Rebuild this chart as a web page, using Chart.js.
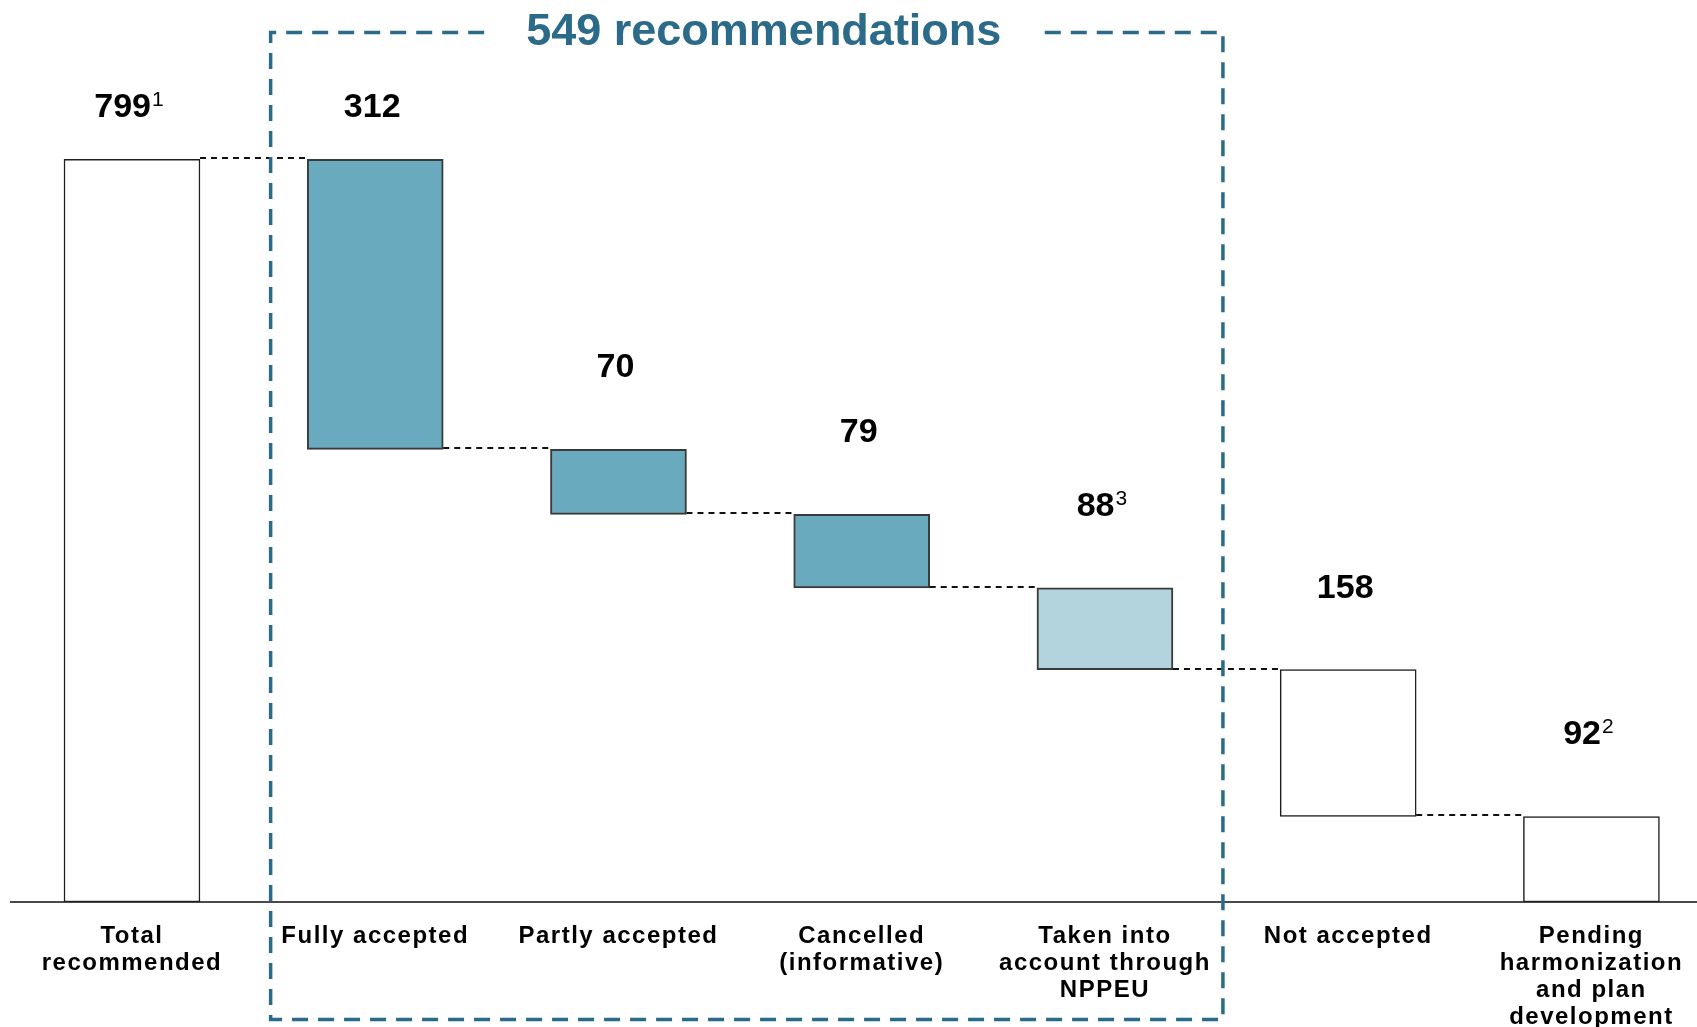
<!DOCTYPE html>
<html>
<head>
<meta charset="utf-8">
<script src="https://cdn.jsdelivr.net/npm/chart.js@4.4.0/dist/chart.umd.min.js"></script>
<style>
  html, body { margin: 0; background: #fff; }
  #wrap { width: 1697px; height: 1027px; position: relative; }
</style>
</head>
<body>
<div id="wrap"><canvas id="waterfall"></canvas></div>
<script>
// --- Data ---
const categories = [
  ['Total', 'recommended'],
  ['Fully accepted'],
  ['Partly accepted'],
  ['Cancelled', '(informative)'],
  ['Taken into', 'account through', 'NPPEU'],
  ['Not accepted'],
  ['Pending', 'harmonization', 'and plan', 'development']
];
const values = [799, 312, 70, 79, 88, 158, 92];
const footnotes = ['1', '', '', '', '3', '', '2'];
const kinds = ['total', 'accepted', 'accepted', 'accepted', 'through', 'open', 'open'];
const boxedFrom = 1, boxedTo = 4; // categories inside the dashed bracket

const FONT = '"Liberation Sans", Arial, Helvetica, sans-serif';
const fillOf = { total: '#ffffff', accepted: '#6aaabf', through: '#b3d3dd', open: '#ffffff' };
const edgeOf = { total: '#1e1e1e', accepted: '#3a3a3a', through: '#3a3a3a', open: '#1e1e1e' };
const TEAL = '#2b6a88';

// waterfall: first bar from zero, the rest hang from the running remainder
let level = values[0];
const ranges = values.map((v, i) => {
  if (i === 0) return [0, v];
  const r = [level - v, level];
  level -= v;
  return r;
});
const boxedTotal = values.slice(boxedFrom, boxedTo + 1).reduce((a, b) => a + b, 0);

const decor = {
  id: 'decor',
  beforeDraw(chart) { chart.ctx.letterSpacing = '1.5px'; },
  beforeDatasetsDraw(chart) { chart.ctx.letterSpacing = '0px'; },
  afterDatasetsDraw(chart) {
    const { ctx, scales: { x, y }, chartArea } = chart;
    const half = 68;
    ctx.save();
    ctx.letterSpacing = '0px';

    // connectors
    ctx.strokeStyle = '#111';
    ctx.lineWidth = 2;
    ctx.setLineDash([6, 5]);
    for (let i = 0; i < ranges.length - 1; i++) {
      const py = Math.round(y.getPixelForValue(ranges[i + 1][1])) - 1;
      ctx.beginPath();
      ctx.moveTo(x.getPixelForValue(i) + half, py);
      ctx.lineTo(x.getPixelForValue(i + 1) - half, py);
      ctx.stroke();
    }
    ctx.setLineDash([]);

    // value labels
    ranges.forEach((r, i) => {
      const cx = x.getPixelForValue(i) - 3;
      const top = y.getPixelForValue(r[1]);
      const cy = Math.max(chartArea.top + 86, top - 84);
      const base = cy + 12;
      ctx.font = 'bold 34px ' + FONT;
      const txt = String(values[i]);
      const w1 = ctx.measureText(txt).width;
      ctx.font = '21px ' + FONT;
      const w2 = footnotes[i] ? ctx.measureText(footnotes[i]).width + 1 : 0;
      const x0 = cx - (w1 + w2) / 2;
      ctx.fillStyle = '#000';
      ctx.textAlign = 'left';
      ctx.textBaseline = 'alphabetic';
      ctx.font = 'bold 34px ' + FONT;
      ctx.fillText(txt, x0, base);
      if (footnotes[i]) {
        ctx.font = '21px ' + FONT;
        ctx.fillText(footnotes[i], x0 + w1 + 1, base - 11);
      }
    });

    // dashed bracket with title
    const step = x.getPixelForValue(1) - x.getPixelForValue(0);
    const left = x.getPixelForValue(boxedFrom) - 0.43 * step;
    const right = x.getPixelForValue(boxedTo) + 0.485 * step;
    const bTop = chartArea.top + 13.5;
    const bBot = chart.height - 7.5;
    const title = boxedTotal + ' recommendations';
    ctx.font = 'bold 45px ' + FONT;
    const tw = ctx.measureText(title).width;
    const tcx = (left + right) / 2 + 17;
    ctx.fillStyle = TEAL;
    ctx.textAlign = 'center';
    ctx.fillText(title, tcx, 45);

    ctx.strokeStyle = TEAL;
    ctx.lineWidth = 3.5;
    ctx.setLineDash([16, 10]);
    ctx.beginPath();
    ctx.moveTo(tcx - tw / 2 - 42, bTop);
    ctx.lineTo(left, bTop);
    ctx.lineTo(left, bBot);
    ctx.lineTo(right, bBot);
    ctx.lineTo(right, bTop);
    ctx.lineTo(tcx + tw / 2 + 36, bTop);
    ctx.stroke();
    ctx.restore();
  }
};

new Chart(document.getElementById('waterfall'), {
  type: 'bar',
  data: {
    datasets: [{
      data: ranges.map((r, i) => ({ x: i, y: r })),
      backgroundColor: kinds.map(k => fillOf[k]),
      borderColor: kinds.map(k => edgeOf[k]),
      borderWidth: kinds.map(k => (k === 'accepted' || k === 'through') ? 2 : 1.5),
      borderSkipped: false,
      barThickness: 136
    }]
  },
  options: {
    responsive: true,
    maintainAspectRatio: false,
    animation: false,
    layout: { padding: { left: 11, right: 0, top: 19, bottom: 0 } },
    plugins: { legend: { display: false }, tooltip: { enabled: false } },
    scales: {
      x: {
        type: 'linear',
        offset: false,
        min: -0.4974,
        max: 6.434,
        grid: { display: false },
        border: { display: true, color: '#4a4a4a', width: 2 },
        afterBuildTicks: s => { s.ticks = categories.map((_, i) => ({ value: i })); },
        afterFit: s => { s.height = 125; },
        ticks: {
          autoSkip: false, maxRotation: 0, minRotation: 0, padding: 13,
          color: '#000',
          font: { family: FONT, size: 24, weight: 'bold', lineHeight: 1.12 },
          callback: v => categories[v]
        }
      },
      y: { display: false, min: 0, max: 950 }
    }
  },
  plugins: [decor]
});
</script>
</body>
</html>
